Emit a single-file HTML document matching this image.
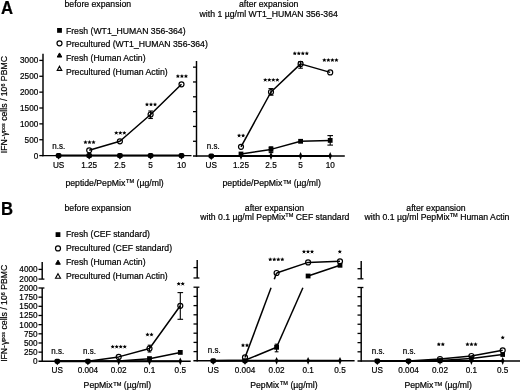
<!DOCTYPE html>
<html><head><meta charset="utf-8"><style>
html,body{margin:0;padding:0;background:#fff;}
body{width:520px;height:392px;overflow:hidden;}
svg{display:block;will-change:transform;font-family:"Liberation Sans",sans-serif;fill:#000;}
text{stroke:#000;stroke-width:0.2px;}
</style></head><body>
<svg width="520" height="392" viewBox="0 0 520 392">
<rect width="520" height="392" fill="#fff"/>
<text x="1.10" y="13.70" text-anchor="start" font-size="17.6" font-weight="bold" transform="translate(1.1 0) scale(0.95 1) translate(-1.1 0)">A</text>
<text transform="translate(97.80 7.40) scale(1 1.04)" text-anchor="middle" font-size="8.7" font-weight="normal" >before expansion</text>
<text transform="translate(268.70 7.40) scale(1 1.04)" text-anchor="middle" font-size="8.7" font-weight="normal" >after expansion</text>
<text transform="translate(268.70 16.90) scale(1 1.04)" text-anchor="middle" font-size="8.7" font-weight="normal" >with 1 µg/ml WT1_HUMAN 356-364</text>
<rect x="57.10" y="28.00" width="4.8" height="4.8" fill="#000"/>
<text transform="translate(65.90 33.50) scale(1 1.04)" text-anchor="start" font-size="8.7" font-weight="normal" >Fresh (WT1_HUMAN 356-364)</text>
<circle cx="59.50" cy="43.30" r="2.5" fill="none" stroke="#000" stroke-width="1.2"/>
<text transform="translate(65.90 47.00) scale(1 1.04)" text-anchor="start" font-size="8.7" font-weight="normal" >Precultured (WT1_HUMAN 356-364)</text>
<polygon points="59.50,52.93 61.80,57.07 57.20,57.07" fill="#000" stroke="#000" stroke-width="1.0" stroke-linejoin="miter"/>
<text transform="translate(65.90 60.80) scale(1 1.04)" text-anchor="start" font-size="8.7" font-weight="normal" >Fresh (Human Actin)</text>
<polygon points="59.50,66.23 61.80,70.37 57.20,70.37" fill="#fff" stroke="#000" stroke-width="1.1" stroke-linejoin="miter"/>
<text transform="translate(65.90 74.60) scale(1 1.04)" text-anchor="start" font-size="8.7" font-weight="normal" >Precultured (Human Actin)</text>
<text transform="translate(7.4 104.60) rotate(-90) scale(1 1.04)" text-anchor="middle" font-size="8.7">IFN-γ<tspan font-size="5.4" dy="-2.6">pos</tspan><tspan dy="2.6"> cells / 10</tspan><tspan font-size="5.4" dy="-2.6">6</tspan><tspan dy="2.6"> PBMC</tspan></text>
<line x1="43.00" y1="53.80" x2="43.00" y2="156.35" stroke="#000" stroke-width="1.45"/>
<line x1="42.25" y1="155.60" x2="191.50" y2="155.60" stroke="#000" stroke-width="1.45"/>
<line x1="58.60" y1="155.60" x2="181.50" y2="155.60" stroke="#000" stroke-width="2.0"/>
<line x1="39.30" y1="155.60" x2="43.00" y2="155.60" stroke="#000" stroke-width="1.3"/>
<text transform="translate(38.30 158.60) scale(1 1.04)" text-anchor="end" font-size="8.2" font-weight="normal" >0</text>
<line x1="39.30" y1="139.73" x2="43.00" y2="139.73" stroke="#000" stroke-width="1.3"/>
<text transform="translate(38.30 142.73) scale(1 1.04)" text-anchor="end" font-size="8.2" font-weight="normal" >500</text>
<line x1="39.30" y1="123.87" x2="43.00" y2="123.87" stroke="#000" stroke-width="1.3"/>
<text transform="translate(38.30 126.87) scale(1 1.04)" text-anchor="end" font-size="8.2" font-weight="normal" >1000</text>
<line x1="39.30" y1="108.00" x2="43.00" y2="108.00" stroke="#000" stroke-width="1.3"/>
<text transform="translate(38.30 111.00) scale(1 1.04)" text-anchor="end" font-size="8.2" font-weight="normal" >1500</text>
<line x1="39.30" y1="92.14" x2="43.00" y2="92.14" stroke="#000" stroke-width="1.3"/>
<text transform="translate(38.30 95.14) scale(1 1.04)" text-anchor="end" font-size="8.2" font-weight="normal" >2000</text>
<line x1="39.30" y1="76.27" x2="43.00" y2="76.27" stroke="#000" stroke-width="1.3"/>
<text transform="translate(38.30 79.27) scale(1 1.04)" text-anchor="end" font-size="8.2" font-weight="normal" >2500</text>
<line x1="39.30" y1="60.41" x2="43.00" y2="60.41" stroke="#000" stroke-width="1.3"/>
<text transform="translate(38.30 63.41) scale(1 1.04)" text-anchor="end" font-size="8.2" font-weight="normal" >3000</text>
<text transform="translate(58.60 167.60) scale(1 1.04)" text-anchor="middle" font-size="8.2" font-weight="normal" >US</text>
<text transform="translate(89.20 167.60) scale(1 1.04)" text-anchor="middle" font-size="8.2" font-weight="normal" >1.25</text>
<text transform="translate(119.90 167.60) scale(1 1.04)" text-anchor="middle" font-size="8.2" font-weight="normal" >2.5</text>
<text transform="translate(150.60 167.60) scale(1 1.04)" text-anchor="middle" font-size="8.2" font-weight="normal" >5</text>
<text transform="translate(181.50 167.60) scale(1 1.04)" text-anchor="middle" font-size="8.2" font-weight="normal" >10</text>
<polyline points="89.20,150.30 119.90,141.30 150.60,114.50 181.50,84.30" fill="none" stroke="#000" stroke-width="1.5" stroke-linejoin="round"/>
<line x1="150.60" y1="111.00" x2="150.60" y2="118.50" stroke="#000" stroke-width="1.1"/>
<line x1="148.30" y1="111.00" x2="152.90" y2="111.00" stroke="#000" stroke-width="1.1"/>
<line x1="148.30" y1="118.50" x2="152.90" y2="118.50" stroke="#000" stroke-width="1.1"/>
<rect x="55.80" y="153.00" width="5.6" height="5.0" rx="1.6" fill="#000"/>
<polygon points="57.00,157.40 60.20,157.40 58.60,159.60" fill="#000"/>
<rect x="86.40" y="153.00" width="5.6" height="5.0" rx="1.6" fill="#000"/>
<polygon points="87.60,157.40 90.80,157.40 89.20,159.60" fill="#000"/>
<rect x="117.10" y="153.00" width="5.6" height="5.0" rx="1.6" fill="#000"/>
<polygon points="118.30,157.40 121.50,157.40 119.90,159.60" fill="#000"/>
<rect x="147.80" y="153.00" width="5.6" height="5.0" rx="1.6" fill="#000"/>
<polygon points="149.00,157.40 152.20,157.40 150.60,159.60" fill="#000"/>
<rect x="178.70" y="153.00" width="5.6" height="5.0" rx="1.6" fill="#000"/>
<polygon points="179.90,157.40 183.10,157.40 181.50,159.60" fill="#000"/>
<circle cx="89.20" cy="150.30" r="2.5" fill="none" stroke="#000" stroke-width="1.2"/>
<circle cx="119.90" cy="141.30" r="2.5" fill="none" stroke="#000" stroke-width="1.2"/>
<circle cx="150.60" cy="114.50" r="2.5" fill="none" stroke="#000" stroke-width="1.2"/>
<circle cx="181.50" cy="84.30" r="2.5" fill="none" stroke="#000" stroke-width="1.2"/>
<text transform="translate(58.80 148.70) scale(1 1.12)" text-anchor="middle" font-size="8.0" font-weight="normal" >n.s.</text>
<circle cx="85.47" cy="142.30" r="1.1" fill="#000"/>
<path d="M85.47,142.30L85.47,140.85M85.47,142.30L86.85,141.85M85.47,142.30L86.32,143.47M85.47,142.30L84.62,143.47M85.47,142.30L84.09,141.85" stroke="#000" stroke-width="0.75" stroke-linecap="round"/>
<circle cx="89.50" cy="142.30" r="1.1" fill="#000"/>
<path d="M89.50,142.30L89.50,140.85M89.50,142.30L90.88,141.85M89.50,142.30L90.35,143.47M89.50,142.30L88.65,143.47M89.50,142.30L88.12,141.85" stroke="#000" stroke-width="0.75" stroke-linecap="round"/>
<circle cx="93.53" cy="142.30" r="1.1" fill="#000"/>
<path d="M93.53,142.30L93.53,140.85M93.53,142.30L94.91,141.85M93.53,142.30L94.38,143.47M93.53,142.30L92.68,143.47M93.53,142.30L92.15,141.85" stroke="#000" stroke-width="0.75" stroke-linecap="round"/>
<circle cx="116.27" cy="133.00" r="1.1" fill="#000"/>
<path d="M116.27,133.00L116.27,131.55M116.27,133.00L117.65,132.55M116.27,133.00L117.12,134.17M116.27,133.00L115.42,134.17M116.27,133.00L114.89,132.55" stroke="#000" stroke-width="0.75" stroke-linecap="round"/>
<circle cx="120.30" cy="133.00" r="1.1" fill="#000"/>
<path d="M120.30,133.00L120.30,131.55M120.30,133.00L121.68,132.55M120.30,133.00L121.15,134.17M120.30,133.00L119.45,134.17M120.30,133.00L118.92,132.55" stroke="#000" stroke-width="0.75" stroke-linecap="round"/>
<circle cx="124.33" cy="133.00" r="1.1" fill="#000"/>
<path d="M124.33,133.00L124.33,131.55M124.33,133.00L125.71,132.55M124.33,133.00L125.18,134.17M124.33,133.00L123.48,134.17M124.33,133.00L122.95,132.55" stroke="#000" stroke-width="0.75" stroke-linecap="round"/>
<circle cx="146.97" cy="104.60" r="1.1" fill="#000"/>
<path d="M146.97,104.60L146.97,103.15M146.97,104.60L148.35,104.15M146.97,104.60L147.82,105.77M146.97,104.60L146.12,105.77M146.97,104.60L145.59,104.15" stroke="#000" stroke-width="0.75" stroke-linecap="round"/>
<circle cx="151.00" cy="104.60" r="1.1" fill="#000"/>
<path d="M151.00,104.60L151.00,103.15M151.00,104.60L152.38,104.15M151.00,104.60L151.85,105.77M151.00,104.60L150.15,105.77M151.00,104.60L149.62,104.15" stroke="#000" stroke-width="0.75" stroke-linecap="round"/>
<circle cx="155.03" cy="104.60" r="1.1" fill="#000"/>
<path d="M155.03,104.60L155.03,103.15M155.03,104.60L156.41,104.15M155.03,104.60L155.88,105.77M155.03,104.60L154.18,105.77M155.03,104.60L153.65,104.15" stroke="#000" stroke-width="0.75" stroke-linecap="round"/>
<circle cx="177.87" cy="76.30" r="1.1" fill="#000"/>
<path d="M177.87,76.30L177.87,74.85M177.87,76.30L179.25,75.85M177.87,76.30L178.72,77.47M177.87,76.30L177.02,77.47M177.87,76.30L176.49,75.85" stroke="#000" stroke-width="0.75" stroke-linecap="round"/>
<circle cx="181.90" cy="76.30" r="1.1" fill="#000"/>
<path d="M181.90,76.30L181.90,74.85M181.90,76.30L183.28,75.85M181.90,76.30L182.75,77.47M181.90,76.30L181.05,77.47M181.90,76.30L180.52,75.85" stroke="#000" stroke-width="0.75" stroke-linecap="round"/>
<circle cx="185.93" cy="76.30" r="1.1" fill="#000"/>
<path d="M185.93,76.30L185.93,74.85M185.93,76.30L187.31,75.85M185.93,76.30L186.78,77.47M185.93,76.30L185.08,77.47M185.93,76.30L184.55,75.85" stroke="#000" stroke-width="0.75" stroke-linecap="round"/>
<text transform="translate(65.40 185.50) scale(1 1.04)" font-size="8.7">peptide/PepMix<tspan font-size="5.6" dx="0.8" dy="-2.0">TM</tspan><tspan dy="2.0"> (µg/ml)</tspan></text>
<line x1="196.50" y1="61.00" x2="196.50" y2="156.75" stroke="#000" stroke-width="1.45"/>
<line x1="193.00" y1="156.00" x2="344.80" y2="156.00" stroke="#000" stroke-width="1.45"/>
<line x1="211.30" y1="156.00" x2="330.20" y2="156.00" stroke="#000" stroke-width="2.0"/>
<line x1="193.00" y1="141.28" x2="196.50" y2="141.28" stroke="#000" stroke-width="1.3"/>
<line x1="193.00" y1="126.45" x2="196.50" y2="126.45" stroke="#000" stroke-width="1.3"/>
<line x1="193.00" y1="111.62" x2="196.50" y2="111.62" stroke="#000" stroke-width="1.3"/>
<line x1="193.00" y1="96.80" x2="196.50" y2="96.80" stroke="#000" stroke-width="1.3"/>
<line x1="193.00" y1="81.97" x2="196.50" y2="81.97" stroke="#000" stroke-width="1.3"/>
<line x1="193.00" y1="67.15" x2="196.50" y2="67.15" stroke="#000" stroke-width="1.3"/>
<text transform="translate(211.30 167.60) scale(1 1.04)" text-anchor="middle" font-size="8.2" font-weight="normal" >US</text>
<text transform="translate(241.00 167.60) scale(1 1.04)" text-anchor="middle" font-size="8.2" font-weight="normal" >1.25</text>
<text transform="translate(271.00 167.60) scale(1 1.04)" text-anchor="middle" font-size="8.2" font-weight="normal" >2.5</text>
<text transform="translate(300.60 167.60) scale(1 1.04)" text-anchor="middle" font-size="8.2" font-weight="normal" >5</text>
<text transform="translate(330.20 167.60) scale(1 1.04)" text-anchor="middle" font-size="8.2" font-weight="normal" >10</text>
<polyline points="241.00,154.00 271.00,149.40 300.60,141.30 330.20,140.40" fill="none" stroke="#000" stroke-width="1.5" stroke-linejoin="round"/>
<polyline points="241.00,146.80 271.00,92.00 300.60,63.90 330.20,72.40" fill="none" stroke="#000" stroke-width="1.5" stroke-linejoin="round"/>
<line x1="271.00" y1="146.80" x2="271.00" y2="152.60" stroke="#000" stroke-width="1.1"/>
<line x1="268.70" y1="146.80" x2="273.30" y2="146.80" stroke="#000" stroke-width="1.1"/>
<line x1="268.70" y1="152.60" x2="273.30" y2="152.60" stroke="#000" stroke-width="1.1"/>
<line x1="330.20" y1="135.60" x2="330.20" y2="145.10" stroke="#000" stroke-width="1.1"/>
<line x1="327.40" y1="135.60" x2="333.00" y2="135.60" stroke="#000" stroke-width="1.1"/>
<line x1="327.40" y1="145.10" x2="333.00" y2="145.10" stroke="#000" stroke-width="1.1"/>
<line x1="271.00" y1="88.60" x2="271.00" y2="95.20" stroke="#000" stroke-width="1.1"/>
<line x1="268.50" y1="88.60" x2="273.50" y2="88.60" stroke="#000" stroke-width="1.1"/>
<line x1="268.50" y1="95.20" x2="273.50" y2="95.20" stroke="#000" stroke-width="1.1"/>
<line x1="300.60" y1="61.60" x2="300.60" y2="68.20" stroke="#000" stroke-width="1.1"/>
<line x1="298.30" y1="61.60" x2="302.90" y2="61.60" stroke="#000" stroke-width="1.1"/>
<line x1="298.30" y1="68.20" x2="302.90" y2="68.20" stroke="#000" stroke-width="1.1"/>
<rect x="208.50" y="153.40" width="5.6" height="5.0" rx="1.6" fill="#000"/>
<polygon points="209.70,157.80 212.90,157.80 211.30,160.00" fill="#000"/>
<polygon points="241.00,152.10 242.70,155.80 241.00,159.90 239.30,155.80" fill="#000"/>
<polygon points="271.00,152.10 272.70,155.80 271.00,159.90 269.30,155.80" fill="#000"/>
<polygon points="300.60,152.10 302.30,155.80 300.60,159.90 298.90,155.80" fill="#000"/>
<polygon points="330.20,152.10 331.90,155.80 330.20,159.90 328.50,155.80" fill="#000"/>
<rect x="238.60" y="151.60" width="4.8" height="4.8" fill="#000"/>
<rect x="268.60" y="147.00" width="4.8" height="4.8" fill="#000"/>
<rect x="298.20" y="138.90" width="4.8" height="4.8" fill="#000"/>
<rect x="327.80" y="138.00" width="4.8" height="4.8" fill="#000"/>
<circle cx="241.00" cy="146.80" r="2.5" fill="none" stroke="#000" stroke-width="1.2"/>
<circle cx="271.00" cy="92.00" r="2.5" fill="none" stroke="#000" stroke-width="1.2"/>
<circle cx="300.60" cy="63.90" r="2.5" fill="none" stroke="#000" stroke-width="1.2"/>
<circle cx="330.20" cy="72.40" r="2.5" fill="none" stroke="#000" stroke-width="1.2"/>
<text transform="translate(213.30 149.00) scale(1 1.12)" text-anchor="middle" font-size="8.0" font-weight="normal" >n.s.</text>
<circle cx="239.09" cy="135.70" r="1.1" fill="#000"/>
<path d="M239.09,135.70L239.09,134.25M239.09,135.70L240.46,135.25M239.09,135.70L239.94,136.87M239.09,135.70L238.23,136.87M239.09,135.70L237.71,135.25" stroke="#000" stroke-width="0.75" stroke-linecap="round"/>
<circle cx="243.11" cy="135.70" r="1.1" fill="#000"/>
<path d="M243.11,135.70L243.11,134.25M243.11,135.70L244.49,135.25M243.11,135.70L243.97,136.87M243.11,135.70L242.26,136.87M243.11,135.70L241.74,135.25" stroke="#000" stroke-width="0.75" stroke-linecap="round"/>
<circle cx="265.25" cy="80.00" r="1.1" fill="#000"/>
<path d="M265.25,80.00L265.25,78.55M265.25,80.00L266.63,79.55M265.25,80.00L266.11,81.17M265.25,80.00L264.40,81.17M265.25,80.00L263.88,79.55" stroke="#000" stroke-width="0.75" stroke-linecap="round"/>
<circle cx="269.29" cy="80.00" r="1.1" fill="#000"/>
<path d="M269.29,80.00L269.29,78.55M269.29,80.00L270.66,79.55M269.29,80.00L270.14,81.17M269.29,80.00L268.43,81.17M269.29,80.00L267.91,79.55" stroke="#000" stroke-width="0.75" stroke-linecap="round"/>
<circle cx="273.31" cy="80.00" r="1.1" fill="#000"/>
<path d="M273.31,80.00L273.31,78.55M273.31,80.00L274.69,79.55M273.31,80.00L274.17,81.17M273.31,80.00L272.46,81.17M273.31,80.00L271.94,79.55" stroke="#000" stroke-width="0.75" stroke-linecap="round"/>
<circle cx="277.35" cy="80.00" r="1.1" fill="#000"/>
<path d="M277.35,80.00L277.35,78.55M277.35,80.00L278.72,79.55M277.35,80.00L278.20,81.17M277.35,80.00L276.49,81.17M277.35,80.00L275.97,79.55" stroke="#000" stroke-width="0.75" stroke-linecap="round"/>
<circle cx="294.75" cy="53.50" r="1.1" fill="#000"/>
<path d="M294.75,53.50L294.75,52.05M294.75,53.50L296.13,53.05M294.75,53.50L295.61,54.67M294.75,53.50L293.90,54.67M294.75,53.50L293.38,53.05" stroke="#000" stroke-width="0.75" stroke-linecap="round"/>
<circle cx="298.79" cy="53.50" r="1.1" fill="#000"/>
<path d="M298.79,53.50L298.79,52.05M298.79,53.50L300.16,53.05M298.79,53.50L299.64,54.67M298.79,53.50L297.93,54.67M298.79,53.50L297.41,53.05" stroke="#000" stroke-width="0.75" stroke-linecap="round"/>
<circle cx="302.81" cy="53.50" r="1.1" fill="#000"/>
<path d="M302.81,53.50L302.81,52.05M302.81,53.50L304.19,53.05M302.81,53.50L303.67,54.67M302.81,53.50L301.96,54.67M302.81,53.50L301.44,53.05" stroke="#000" stroke-width="0.75" stroke-linecap="round"/>
<circle cx="306.85" cy="53.50" r="1.1" fill="#000"/>
<path d="M306.85,53.50L306.85,52.05M306.85,53.50L308.22,53.05M306.85,53.50L307.70,54.67M306.85,53.50L305.99,54.67M306.85,53.50L305.47,53.05" stroke="#000" stroke-width="0.75" stroke-linecap="round"/>
<circle cx="324.35" cy="60.20" r="1.1" fill="#000"/>
<path d="M324.35,60.20L324.35,58.75M324.35,60.20L325.73,59.75M324.35,60.20L325.21,61.37M324.35,60.20L323.50,61.37M324.35,60.20L322.98,59.75" stroke="#000" stroke-width="0.75" stroke-linecap="round"/>
<circle cx="328.38" cy="60.20" r="1.1" fill="#000"/>
<path d="M328.38,60.20L328.38,58.75M328.38,60.20L329.76,59.75M328.38,60.20L329.24,61.37M328.38,60.20L327.53,61.37M328.38,60.20L327.01,59.75" stroke="#000" stroke-width="0.75" stroke-linecap="round"/>
<circle cx="332.41" cy="60.20" r="1.1" fill="#000"/>
<path d="M332.41,60.20L332.41,58.75M332.41,60.20L333.79,59.75M332.41,60.20L333.27,61.37M332.41,60.20L331.56,61.37M332.41,60.20L331.04,59.75" stroke="#000" stroke-width="0.75" stroke-linecap="round"/>
<circle cx="336.44" cy="60.20" r="1.1" fill="#000"/>
<path d="M336.44,60.20L336.44,58.75M336.44,60.20L337.82,59.75M336.44,60.20L337.30,61.37M336.44,60.20L335.59,61.37M336.44,60.20L335.07,59.75" stroke="#000" stroke-width="0.75" stroke-linecap="round"/>
<text transform="translate(222.50 185.70) scale(1 1.04)" font-size="8.7">peptide/PepMix<tspan font-size="5.6" dx="0.8" dy="-2.0">TM</tspan><tspan dy="2.0"> (µg/ml)</tspan></text>
<text x="1.10" y="215.30" text-anchor="start" font-size="17.6" font-weight="bold" transform="translate(1.1 0) scale(0.95 1) translate(-1.1 0)">B</text>
<text transform="translate(97.80 210.50) scale(1 1.04)" text-anchor="middle" font-size="8.7" font-weight="normal" >before expansion</text>
<text transform="translate(274.50 210.50) scale(1 1.04)" text-anchor="middle" font-size="8.7" font-weight="normal" >after expansion</text>
<text transform="translate(274.80 219.70) scale(1 1.04)" font-size="8.7" text-anchor="middle">with 0.1 µg/ml PepMix<tspan font-size="5.6" dy="-2.6">TM</tspan><tspan dy="2.6"> CEF standard</tspan></text>
<text transform="translate(436.00 210.50) scale(1 1.04)" text-anchor="middle" font-size="8.7" font-weight="normal" >after expansion</text>
<text transform="translate(437.00 219.70) scale(1 1.04)" font-size="8.7" text-anchor="middle">with 0.1 µg/ml PepMix<tspan font-size="5.6" dy="-2.6">TM</tspan><tspan dy="2.6"> Human Actin</tspan></text>
<rect x="55.60" y="232.20" width="4.8" height="4.8" fill="#000"/>
<text transform="translate(65.90 237.00) scale(1 1.04)" text-anchor="start" font-size="8.7" font-weight="normal" >Fresh (CEF standard)</text>
<circle cx="58.00" cy="248.40" r="2.5" fill="none" stroke="#000" stroke-width="1.2"/>
<text transform="translate(65.90 250.60) scale(1 1.04)" text-anchor="start" font-size="8.7" font-weight="normal" >Precultured (CEF standard)</text>
<polygon points="58.00,260.13 60.30,264.27 55.70,264.27" fill="#000" stroke="#000" stroke-width="1.0" stroke-linejoin="miter"/>
<text transform="translate(65.90 264.90) scale(1 1.04)" text-anchor="start" font-size="8.7" font-weight="normal" >Fresh (Human Actin)</text>
<polygon points="58.00,273.75 60.50,278.25 55.50,278.25" fill="#fff" stroke="#000" stroke-width="1.1" stroke-linejoin="miter"/>
<text transform="translate(65.90 278.60) scale(1 1.04)" text-anchor="start" font-size="8.7" font-weight="normal" >Precultured (Human Actin)</text>
<text transform="translate(7.4 313.30) rotate(-90) scale(1 1.04)" text-anchor="middle" font-size="8.7">IFN-γ<tspan font-size="5.4" dy="-2.6">pos</tspan><tspan dy="2.6"> cells / 10</tspan><tspan font-size="5.4" dy="-2.6">6</tspan><tspan dy="2.6"> PBMC</tspan></text>
<line x1="42.20" y1="262.00" x2="42.20" y2="279.10" stroke="#000" stroke-width="1.45"/>
<line x1="38.50" y1="269.40" x2="42.20" y2="269.40" stroke="#000" stroke-width="1.3"/>
<line x1="38.50" y1="279.10" x2="44.40" y2="279.10" stroke="#000" stroke-width="1.3"/>
<line x1="42.20" y1="288.00" x2="42.20" y2="362.05" stroke="#000" stroke-width="1.45"/>
<line x1="38.50" y1="288.00" x2="44.40" y2="288.00" stroke="#000" stroke-width="1.3"/>
<line x1="38.50" y1="352.14" x2="42.20" y2="352.14" stroke="#000" stroke-width="1.3"/>
<line x1="38.50" y1="342.98" x2="42.20" y2="342.98" stroke="#000" stroke-width="1.3"/>
<line x1="38.50" y1="333.81" x2="42.20" y2="333.81" stroke="#000" stroke-width="1.3"/>
<line x1="38.50" y1="324.65" x2="42.20" y2="324.65" stroke="#000" stroke-width="1.3"/>
<line x1="38.50" y1="315.49" x2="42.20" y2="315.49" stroke="#000" stroke-width="1.3"/>
<line x1="38.50" y1="306.32" x2="42.20" y2="306.32" stroke="#000" stroke-width="1.3"/>
<line x1="38.50" y1="297.16" x2="42.20" y2="297.16" stroke="#000" stroke-width="1.3"/>
<line x1="38.50" y1="361.30" x2="190.70" y2="361.30" stroke="#000" stroke-width="1.45"/>
<line x1="57.30" y1="361.30" x2="180.30" y2="361.30" stroke="#000" stroke-width="2.0"/>
<text transform="translate(37.60 272.40) scale(1 1.04)" text-anchor="end" font-size="8.2" font-weight="normal" >4000</text>
<text transform="translate(37.60 282.10) scale(1 1.04)" text-anchor="end" font-size="8.2" font-weight="normal" >2000</text>
<text transform="translate(37.60 364.30) scale(1 1.04)" text-anchor="end" font-size="8.2" font-weight="normal" >0</text>
<text transform="translate(37.60 355.14) scale(1 1.04)" text-anchor="end" font-size="8.2" font-weight="normal" >250</text>
<text transform="translate(37.60 345.98) scale(1 1.04)" text-anchor="end" font-size="8.2" font-weight="normal" >500</text>
<text transform="translate(37.60 336.81) scale(1 1.04)" text-anchor="end" font-size="8.2" font-weight="normal" >750</text>
<text transform="translate(37.60 327.65) scale(1 1.04)" text-anchor="end" font-size="8.2" font-weight="normal" >1000</text>
<text transform="translate(37.60 318.49) scale(1 1.04)" text-anchor="end" font-size="8.2" font-weight="normal" >1250</text>
<text transform="translate(37.60 309.32) scale(1 1.04)" text-anchor="end" font-size="8.2" font-weight="normal" >1500</text>
<text transform="translate(37.60 300.16) scale(1 1.04)" text-anchor="end" font-size="8.2" font-weight="normal" >1750</text>
<text transform="translate(37.60 291.00) scale(1 1.04)" text-anchor="end" font-size="8.2" font-weight="normal" >2000</text>
<text transform="translate(57.30 372.90) scale(1 1.04)" text-anchor="middle" font-size="8.2" font-weight="normal" >US</text>
<text transform="translate(87.90 372.90) scale(1 1.04)" text-anchor="middle" font-size="8.2" font-weight="normal" >0.004</text>
<text transform="translate(118.70 372.90) scale(1 1.04)" text-anchor="middle" font-size="8.2" font-weight="normal" >0.02</text>
<text transform="translate(149.50 372.90) scale(1 1.04)" text-anchor="middle" font-size="8.2" font-weight="normal" >0.1</text>
<text transform="translate(180.30 372.90) scale(1 1.04)" text-anchor="middle" font-size="8.2" font-weight="normal" >0.5</text>
<polyline points="57.30,361.30 87.90,361.30 118.70,361.00 149.50,358.80 180.30,352.40" fill="none" stroke="#000" stroke-width="1.5" stroke-linejoin="round"/>
<polyline points="57.30,361.30 87.90,361.30 118.70,356.90 149.50,348.50 180.30,305.80" fill="none" stroke="#000" stroke-width="1.5" stroke-linejoin="round"/>
<line x1="180.30" y1="292.60" x2="180.30" y2="319.30" stroke="#000" stroke-width="1.1"/>
<line x1="177.50" y1="292.60" x2="183.10" y2="292.60" stroke="#000" stroke-width="1.1"/>
<line x1="177.50" y1="319.30" x2="183.10" y2="319.30" stroke="#000" stroke-width="1.1"/>
<line x1="149.50" y1="345.20" x2="149.50" y2="352.00" stroke="#000" stroke-width="1.1"/>
<line x1="147.70" y1="345.20" x2="151.30" y2="345.20" stroke="#000" stroke-width="1.1"/>
<line x1="147.70" y1="352.00" x2="151.30" y2="352.00" stroke="#000" stroke-width="1.1"/>
<rect x="54.50" y="358.70" width="5.6" height="5.0" rx="1.6" fill="#000"/>
<polygon points="55.70,363.10 58.90,363.10 57.30,365.30" fill="#000"/>
<rect x="85.10" y="358.70" width="5.6" height="5.0" rx="1.6" fill="#000"/>
<polygon points="86.30,363.10 89.50,363.10 87.90,365.30" fill="#000"/>
<polygon points="118.70,357.40 120.40,361.10 118.70,365.20 117.00,361.10" fill="#000"/>
<polygon points="149.50,357.40 151.20,361.10 149.50,365.20 147.80,361.10" fill="#000"/>
<polygon points="180.30,357.40 182.00,361.10 180.30,365.20 178.60,361.10" fill="#000"/>
<rect x="147.10" y="356.20" width="4.8" height="4.8" fill="#000"/>
<rect x="177.90" y="350.00" width="4.8" height="4.8" fill="#000"/>
<circle cx="118.70" cy="356.90" r="2.5" fill="none" stroke="#000" stroke-width="1.2"/>
<circle cx="149.50" cy="348.50" r="2.5" fill="none" stroke="#000" stroke-width="1.2"/>
<circle cx="180.30" cy="305.80" r="2.5" fill="none" stroke="#000" stroke-width="1.2"/>
<text transform="translate(57.70 353.80) scale(1 1.12)" text-anchor="middle" font-size="8.0" font-weight="normal" >n.s.</text>
<text transform="translate(89.50 354.00) scale(1 1.12)" text-anchor="middle" font-size="8.0" font-weight="normal" >n.s.</text>
<circle cx="112.66" cy="346.80" r="1.1" fill="#000"/>
<path d="M112.66,346.80L112.66,345.35M112.66,346.80L114.03,346.35M112.66,346.80L113.51,347.97M112.66,346.80L111.80,347.97M112.66,346.80L111.28,346.35" stroke="#000" stroke-width="0.75" stroke-linecap="round"/>
<circle cx="116.69" cy="346.80" r="1.1" fill="#000"/>
<path d="M116.69,346.80L116.69,345.35M116.69,346.80L118.06,346.35M116.69,346.80L117.54,347.97M116.69,346.80L115.83,347.97M116.69,346.80L115.31,346.35" stroke="#000" stroke-width="0.75" stroke-linecap="round"/>
<circle cx="120.72" cy="346.80" r="1.1" fill="#000"/>
<path d="M120.72,346.80L120.72,345.35M120.72,346.80L122.09,346.35M120.72,346.80L121.57,347.97M120.72,346.80L119.86,347.97M120.72,346.80L119.34,346.35" stroke="#000" stroke-width="0.75" stroke-linecap="round"/>
<circle cx="124.75" cy="346.80" r="1.1" fill="#000"/>
<path d="M124.75,346.80L124.75,345.35M124.75,346.80L126.12,346.35M124.75,346.80L125.60,347.97M124.75,346.80L123.89,347.97M124.75,346.80L123.37,346.35" stroke="#000" stroke-width="0.75" stroke-linecap="round"/>
<circle cx="147.49" cy="334.70" r="1.1" fill="#000"/>
<path d="M147.49,334.70L147.49,333.25M147.49,334.70L148.86,334.25M147.49,334.70L148.34,335.87M147.49,334.70L146.63,335.87M147.49,334.70L146.11,334.25" stroke="#000" stroke-width="0.75" stroke-linecap="round"/>
<circle cx="151.51" cy="334.70" r="1.1" fill="#000"/>
<path d="M151.51,334.70L151.51,333.25M151.51,334.70L152.89,334.25M151.51,334.70L152.37,335.87M151.51,334.70L150.66,335.87M151.51,334.70L150.14,334.25" stroke="#000" stroke-width="0.75" stroke-linecap="round"/>
<circle cx="178.69" cy="283.90" r="1.1" fill="#000"/>
<path d="M178.69,283.90L178.69,282.45M178.69,283.90L180.06,283.45M178.69,283.90L179.54,285.07M178.69,283.90L177.83,285.07M178.69,283.90L177.31,283.45" stroke="#000" stroke-width="0.75" stroke-linecap="round"/>
<circle cx="182.71" cy="283.90" r="1.1" fill="#000"/>
<path d="M182.71,283.90L182.71,282.45M182.71,283.90L184.09,283.45M182.71,283.90L183.57,285.07M182.71,283.90L181.86,285.07M182.71,283.90L181.34,283.45" stroke="#000" stroke-width="0.75" stroke-linecap="round"/>
<text transform="translate(83.60 387.80) scale(1 1.04)" font-size="8.7">PepMix<tspan font-size="5.6" dx="0.8" dy="-2.0">TM</tspan><tspan dy="2.0"> (µg/ml)</tspan></text>
<line x1="197.20" y1="260.00" x2="197.20" y2="278.00" stroke="#000" stroke-width="1.45"/>
<line x1="193.50" y1="267.60" x2="197.20" y2="267.60" stroke="#000" stroke-width="1.3"/>
<line x1="193.50" y1="278.00" x2="199.40" y2="278.00" stroke="#000" stroke-width="1.3"/>
<line x1="197.20" y1="287.20" x2="197.20" y2="361.55" stroke="#000" stroke-width="1.45"/>
<line x1="193.50" y1="287.20" x2="199.40" y2="287.20" stroke="#000" stroke-width="1.3"/>
<line x1="193.50" y1="351.60" x2="197.20" y2="351.60" stroke="#000" stroke-width="1.3"/>
<line x1="193.50" y1="342.40" x2="197.20" y2="342.40" stroke="#000" stroke-width="1.3"/>
<line x1="193.50" y1="333.20" x2="197.20" y2="333.20" stroke="#000" stroke-width="1.3"/>
<line x1="193.50" y1="324.00" x2="197.20" y2="324.00" stroke="#000" stroke-width="1.3"/>
<line x1="193.50" y1="314.80" x2="197.20" y2="314.80" stroke="#000" stroke-width="1.3"/>
<line x1="193.50" y1="305.60" x2="197.20" y2="305.60" stroke="#000" stroke-width="1.3"/>
<line x1="193.50" y1="296.40" x2="197.20" y2="296.40" stroke="#000" stroke-width="1.3"/>
<line x1="193.40" y1="360.80" x2="354.60" y2="360.80" stroke="#000" stroke-width="1.45"/>
<line x1="213.20" y1="360.80" x2="340.00" y2="360.80" stroke="#000" stroke-width="2.0"/>
<text transform="translate(213.20 372.80) scale(1 1.04)" text-anchor="middle" font-size="8.2" font-weight="normal" >US</text>
<text transform="translate(245.00 372.80) scale(1 1.04)" text-anchor="middle" font-size="8.2" font-weight="normal" >0.004</text>
<text transform="translate(276.60 372.80) scale(1 1.04)" text-anchor="middle" font-size="8.2" font-weight="normal" >0.02</text>
<text transform="translate(308.10 372.80) scale(1 1.04)" text-anchor="middle" font-size="8.2" font-weight="normal" >0.1</text>
<text transform="translate(340.00 372.80) scale(1 1.04)" text-anchor="middle" font-size="8.2" font-weight="normal" >0.5</text>
<line x1="245.00" y1="357.40" x2="271.06" y2="287.80" stroke="#000" stroke-width="1.5"/>
<line x1="274.28" y1="279.20" x2="276.60" y2="273.00" stroke="#000" stroke-width="1.5"/>
<polyline points="276.60,273.00 308.10,262.40 340.00,261.30" fill="none" stroke="#000" stroke-width="1.5" stroke-linejoin="round"/>
<polyline points="213.20,360.80 245.00,360.30 276.60,347.30" fill="none" stroke="#000" stroke-width="1.5" stroke-linejoin="round"/>
<line x1="276.60" y1="347.30" x2="302.89" y2="287.80" stroke="#000" stroke-width="1.5"/>
<line x1="307.44" y1="277.50" x2="308.10" y2="276.00" stroke="#000" stroke-width="1.5"/>
<line x1="308.10" y1="276.00" x2="340.00" y2="265.30" stroke="#000" stroke-width="1.5"/>
<line x1="276.60" y1="344.20" x2="276.60" y2="351.80" stroke="#000" stroke-width="1.1"/>
<line x1="274.70" y1="344.20" x2="278.50" y2="344.20" stroke="#000" stroke-width="1.1"/>
<line x1="274.70" y1="351.80" x2="278.50" y2="351.80" stroke="#000" stroke-width="1.1"/>
<rect x="210.40" y="358.20" width="5.6" height="5.0" rx="1.6" fill="#000"/>
<polygon points="211.60,362.60 214.80,362.60 213.20,364.80" fill="#000"/>
<rect x="242.20" y="358.20" width="5.6" height="5.0" rx="1.6" fill="#000"/>
<polygon points="243.40,362.60 246.60,362.60 245.00,364.80" fill="#000"/>
<polygon points="276.60,356.90 278.30,360.60 276.60,364.70 274.90,360.60" fill="#000"/>
<polygon points="308.10,356.90 309.80,360.60 308.10,364.70 306.40,360.60" fill="#000"/>
<polygon points="340.00,356.90 341.70,360.60 340.00,364.70 338.30,360.60" fill="#000"/>
<circle cx="245.00" cy="357.40" r="2.5" fill="none" stroke="#000" stroke-width="1.2"/>
<circle cx="276.60" cy="273.00" r="2.5" fill="none" stroke="#000" stroke-width="1.2"/>
<circle cx="308.10" cy="262.40" r="2.5" fill="none" stroke="#000" stroke-width="1.2"/>
<circle cx="340.00" cy="261.30" r="2.5" fill="none" stroke="#000" stroke-width="1.2"/>
<rect x="274.20" y="344.90" width="4.8" height="4.8" fill="#000"/>
<rect x="305.70" y="273.60" width="4.8" height="4.8" fill="#000"/>
<rect x="337.60" y="262.90" width="4.8" height="4.8" fill="#000"/>
<text transform="translate(214.20 352.80) scale(1 1.12)" text-anchor="middle" font-size="8.0" font-weight="normal" >n.s.</text>
<circle cx="242.99" cy="345.40" r="1.1" fill="#000"/>
<path d="M242.99,345.40L242.99,343.95M242.99,345.40L244.36,344.95M242.99,345.40L243.84,346.57M242.99,345.40L242.13,346.57M242.99,345.40L241.61,344.95" stroke="#000" stroke-width="0.75" stroke-linecap="round"/>
<circle cx="247.01" cy="345.40" r="1.1" fill="#000"/>
<path d="M247.01,345.40L247.01,343.95M247.01,345.40L248.39,344.95M247.01,345.40L247.87,346.57M247.01,345.40L246.16,346.57M247.01,345.40L245.64,344.95" stroke="#000" stroke-width="0.75" stroke-linecap="round"/>
<circle cx="270.25" cy="259.50" r="1.1" fill="#000"/>
<path d="M270.25,259.50L270.25,258.05M270.25,259.50L271.63,259.05M270.25,259.50L271.11,260.67M270.25,259.50L269.40,260.67M270.25,259.50L268.88,259.05" stroke="#000" stroke-width="0.75" stroke-linecap="round"/>
<circle cx="274.29" cy="259.50" r="1.1" fill="#000"/>
<path d="M274.29,259.50L274.29,258.05M274.29,259.50L275.66,259.05M274.29,259.50L275.14,260.67M274.29,259.50L273.43,260.67M274.29,259.50L272.91,259.05" stroke="#000" stroke-width="0.75" stroke-linecap="round"/>
<circle cx="278.31" cy="259.50" r="1.1" fill="#000"/>
<path d="M278.31,259.50L278.31,258.05M278.31,259.50L279.69,259.05M278.31,259.50L279.17,260.67M278.31,259.50L277.46,260.67M278.31,259.50L276.94,259.05" stroke="#000" stroke-width="0.75" stroke-linecap="round"/>
<circle cx="282.35" cy="259.50" r="1.1" fill="#000"/>
<path d="M282.35,259.50L282.35,258.05M282.35,259.50L283.72,259.05M282.35,259.50L283.20,260.67M282.35,259.50L281.49,260.67M282.35,259.50L280.97,259.05" stroke="#000" stroke-width="0.75" stroke-linecap="round"/>
<circle cx="303.97" cy="251.80" r="1.1" fill="#000"/>
<path d="M303.97,251.80L303.97,250.35M303.97,251.80L305.35,251.35M303.97,251.80L304.82,252.97M303.97,251.80L303.12,252.97M303.97,251.80L302.59,251.35" stroke="#000" stroke-width="0.75" stroke-linecap="round"/>
<circle cx="308.00" cy="251.80" r="1.1" fill="#000"/>
<path d="M308.00,251.80L308.00,250.35M308.00,251.80L309.38,251.35M308.00,251.80L308.85,252.97M308.00,251.80L307.15,252.97M308.00,251.80L306.62,251.35" stroke="#000" stroke-width="0.75" stroke-linecap="round"/>
<circle cx="312.03" cy="251.80" r="1.1" fill="#000"/>
<path d="M312.03,251.80L312.03,250.35M312.03,251.80L313.41,251.35M312.03,251.80L312.88,252.97M312.03,251.80L311.18,252.97M312.03,251.80L310.65,251.35" stroke="#000" stroke-width="0.75" stroke-linecap="round"/>
<circle cx="339.80" cy="251.80" r="1.1" fill="#000"/>
<path d="M339.80,251.80L339.80,250.35M339.80,251.80L341.18,251.35M339.80,251.80L340.65,252.97M339.80,251.80L338.95,252.97M339.80,251.80L338.42,251.35" stroke="#000" stroke-width="0.75" stroke-linecap="round"/>
<text transform="translate(250.20 387.50) scale(1 1.04)" font-size="8.7">PepMix<tspan font-size="5.6" dx="0.8" dy="-2.0">TM</tspan><tspan dy="2.0"> (µg/ml)</tspan></text>
<line x1="361.20" y1="261.00" x2="361.20" y2="278.80" stroke="#000" stroke-width="1.45"/>
<line x1="357.50" y1="268.70" x2="361.20" y2="268.70" stroke="#000" stroke-width="1.3"/>
<line x1="357.50" y1="278.80" x2="363.40" y2="278.80" stroke="#000" stroke-width="1.3"/>
<line x1="361.20" y1="287.50" x2="361.20" y2="361.75" stroke="#000" stroke-width="1.45"/>
<line x1="357.50" y1="287.50" x2="363.40" y2="287.50" stroke="#000" stroke-width="1.3"/>
<line x1="357.50" y1="351.81" x2="361.20" y2="351.81" stroke="#000" stroke-width="1.3"/>
<line x1="357.50" y1="342.62" x2="361.20" y2="342.62" stroke="#000" stroke-width="1.3"/>
<line x1="357.50" y1="333.44" x2="361.20" y2="333.44" stroke="#000" stroke-width="1.3"/>
<line x1="357.50" y1="324.25" x2="361.20" y2="324.25" stroke="#000" stroke-width="1.3"/>
<line x1="357.50" y1="315.06" x2="361.20" y2="315.06" stroke="#000" stroke-width="1.3"/>
<line x1="357.50" y1="305.88" x2="361.20" y2="305.88" stroke="#000" stroke-width="1.3"/>
<line x1="357.50" y1="296.69" x2="361.20" y2="296.69" stroke="#000" stroke-width="1.3"/>
<line x1="357.50" y1="361.00" x2="520.00" y2="361.00" stroke="#000" stroke-width="1.45"/>
<line x1="377.30" y1="361.00" x2="502.70" y2="361.00" stroke="#000" stroke-width="2.0"/>
<text transform="translate(377.30 372.90) scale(1 1.04)" text-anchor="middle" font-size="8.2" font-weight="normal" >US</text>
<text transform="translate(408.50 372.90) scale(1 1.04)" text-anchor="middle" font-size="8.2" font-weight="normal" >0.004</text>
<text transform="translate(440.00 372.90) scale(1 1.04)" text-anchor="middle" font-size="8.2" font-weight="normal" >0.02</text>
<text transform="translate(471.40 372.90) scale(1 1.04)" text-anchor="middle" font-size="8.2" font-weight="normal" >0.1</text>
<text transform="translate(502.70 372.90) scale(1 1.04)" text-anchor="middle" font-size="8.2" font-weight="normal" >0.5</text>
<polyline points="377.30,361.00 408.50,361.00 440.00,360.50 471.40,358.50 502.70,354.60" fill="none" stroke="#000" stroke-width="1.5" stroke-linejoin="round"/>
<polyline points="377.30,361.00 408.50,361.00 440.00,359.00 471.40,356.00 502.70,350.30" fill="none" stroke="#000" stroke-width="1.5" stroke-linejoin="round"/>
<rect x="374.50" y="358.40" width="5.6" height="5.0" rx="1.6" fill="#000"/>
<polygon points="375.70,362.80 378.90,362.80 377.30,365.00" fill="#000"/>
<rect x="405.70" y="358.40" width="5.6" height="5.0" rx="1.6" fill="#000"/>
<polygon points="406.90,362.80 410.10,362.80 408.50,365.00" fill="#000"/>
<polygon points="440.00,357.10 441.70,360.80 440.00,364.90 438.30,360.80" fill="#000"/>
<polygon points="471.40,357.10 473.10,360.80 471.40,364.90 469.70,360.80" fill="#000"/>
<polygon points="502.70,357.10 504.40,360.80 502.70,364.90 501.00,360.80" fill="#000"/>
<circle cx="440.00" cy="359.00" r="2.5" fill="none" stroke="#000" stroke-width="1.2"/>
<circle cx="471.40" cy="356.00" r="2.5" fill="none" stroke="#000" stroke-width="1.2"/>
<circle cx="502.70" cy="350.30" r="2.5" fill="none" stroke="#000" stroke-width="1.2"/>
<rect x="437.60" y="358.30" width="4.8" height="4.8" fill="#000"/>
<rect x="469.10" y="356.20" width="4.6" height="4.6" fill="#000"/>
<rect x="500.40" y="352.30" width="4.6" height="4.6" fill="#000"/>
<text transform="translate(378.30 354.20) scale(1 1.12)" text-anchor="middle" font-size="8.0" font-weight="normal" >n.s.</text>
<text transform="translate(409.20 354.20) scale(1 1.12)" text-anchor="middle" font-size="8.0" font-weight="normal" >n.s.</text>
<circle cx="438.79" cy="344.40" r="1.1" fill="#000"/>
<path d="M438.79,344.40L438.79,342.95M438.79,344.40L440.16,343.95M438.79,344.40L439.64,345.57M438.79,344.40L437.93,345.57M438.79,344.40L437.41,343.95" stroke="#000" stroke-width="0.75" stroke-linecap="round"/>
<circle cx="442.81" cy="344.40" r="1.1" fill="#000"/>
<path d="M442.81,344.40L442.81,342.95M442.81,344.40L444.19,343.95M442.81,344.40L443.67,345.57M442.81,344.40L441.96,345.57M442.81,344.40L441.44,343.95" stroke="#000" stroke-width="0.75" stroke-linecap="round"/>
<circle cx="467.47" cy="344.40" r="1.1" fill="#000"/>
<path d="M467.47,344.40L467.47,342.95M467.47,344.40L468.85,343.95M467.47,344.40L468.32,345.57M467.47,344.40L466.62,345.57M467.47,344.40L466.09,343.95" stroke="#000" stroke-width="0.75" stroke-linecap="round"/>
<circle cx="471.50" cy="344.40" r="1.1" fill="#000"/>
<path d="M471.50,344.40L471.50,342.95M471.50,344.40L472.88,343.95M471.50,344.40L472.35,345.57M471.50,344.40L470.65,345.57M471.50,344.40L470.12,343.95" stroke="#000" stroke-width="0.75" stroke-linecap="round"/>
<circle cx="475.53" cy="344.40" r="1.1" fill="#000"/>
<path d="M475.53,344.40L475.53,342.95M475.53,344.40L476.91,343.95M475.53,344.40L476.38,345.57M475.53,344.40L474.68,345.57M475.53,344.40L474.15,343.95" stroke="#000" stroke-width="0.75" stroke-linecap="round"/>
<circle cx="502.70" cy="337.70" r="1.1" fill="#000"/>
<path d="M502.70,337.70L502.70,336.25M502.70,337.70L504.08,337.25M502.70,337.70L503.55,338.87M502.70,337.70L501.85,338.87M502.70,337.70L501.32,337.25" stroke="#000" stroke-width="0.75" stroke-linecap="round"/>
<text transform="translate(404.40 387.70) scale(1 1.04)" font-size="8.7">PepMix<tspan font-size="5.6" dx="0.8" dy="-2.0">TM</tspan><tspan dy="2.0"> (µg/ml)</tspan></text>
</svg>
</body></html>
